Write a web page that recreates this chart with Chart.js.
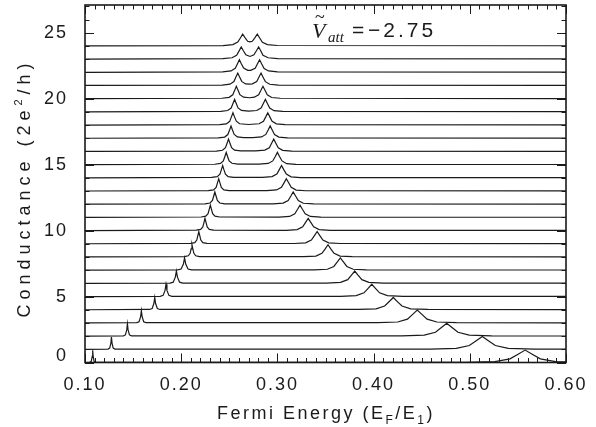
<!DOCTYPE html>
<html>
<head>
<meta charset="utf-8">
<script src="https://cdn.jsdelivr.net/npm/chart.js@4.4.1/dist/chart.umd.min.js"></script>
<style>
  html, body { margin: 0; padding: 0; background: #fff; }
</style>
</head>
<body>
<canvas id="myChart" width="596" height="427"></canvas>
<script>
const xTickLabels = [0.10, 0.20, 0.30, 0.40, 0.50, 0.60];
const yTickLabels = [0, 5, 10, 15, 20, 25];
const attValue = '\u22122.75';

// one trace per offset: [Fermi energy E_F/E_1, conductance 2e^2/h]
const tr0 = [[0.1,0],[0.105,0.02],[0.1065,0.09],[0.1075,0.47],[0.108,0.93],[0.1085,0.47],[0.1095,0.09],[0.111,0.02],[0.4945,0.02],[0.526,0.07],[0.5418,0.28],[0.5502,0.63],[0.5575,0.94],[0.5649,0.63],[0.5733,0.28],[0.589,0.07],[0.6,0.04]];
const tr1 = [[0.1,1],[0.1239,1.02],[0.1257,1.09],[0.1269,1.47],[0.1275,1.93],[0.1281,1.47],[0.1293,1.09],[0.1311,1.02],[0.459,1.02],[0.486,1.07],[0.4995,1.29],[0.5067,1.65],[0.513,1.97],[0.5193,1.65],[0.5265,1.29],[0.54,1.07],[0.567,1.02],[0.6,1.01]];
const tr2 = [[0.1,2],[0.1399,2.02],[0.142,2.09],[0.1434,2.47],[0.1441,2.93],[0.1448,2.47],[0.1462,2.09],[0.1483,2.02],[0.4292,2.02],[0.4526,2.07],[0.4643,2.29],[0.4705,2.65],[0.476,2.97],[0.4815,2.65],[0.4877,2.29],[0.4994,2.07],[0.5228,2.02],[0.6,2.01]];
const tr3 = [[0.1,3],[0.1538,3.02],[0.1562,3.09],[0.1578,3.47],[0.1586,3.93],[0.1594,3.47],[0.161,3.09],[0.1634,3.02],[0.4046,3.02],[0.425,3.07],[0.4352,3.29],[0.4406,3.65],[0.4454,3.97],[0.4502,3.65],[0.4556,3.29],[0.4658,3.07],[0.4862,3.02],[0.6,3.01]];
const tr4 = [[0.1,4],[0.1671,4.02],[0.1698,4.09],[0.1716,4.47],[0.1725,4.93],[0.1734,4.47],[0.1752,4.09],[0.1779,4.02],[0.3845,4.02],[0.4025,4.07],[0.4115,4.28],[0.4163,4.62],[0.4205,4.93],[0.4247,4.62],[0.4295,4.28],[0.4385,4.07],[0.4565,4.02],[0.6,4.01]];
const tr5 = [[0.1,5],[0.1782,5.02],[0.1812,5.09],[0.1832,5.47],[0.1842,5.93],[0.1852,5.47],[0.1872,5.09],[0.1902,5.02],[0.3657,5.02],[0.3819,5.07],[0.39,5.28],[0.3943,5.62],[0.3981,5.93],[0.4019,5.62],[0.4062,5.28],[0.4143,5.07],[0.4305,5.02],[0.6,5.01]];
const tr6 = [[0.1,6],[0.1884,6.02],[0.1917,6.09],[0.1939,6.47],[0.195,6.93],[0.1961,6.47],[0.1983,6.09],[0.2016,6.02],[0.351,6.02],[0.3657,6.07],[0.3731,6.28],[0.377,6.62],[0.3804,6.93],[0.3838,6.62],[0.3878,6.28],[0.3951,6.07],[0.4098,6.02],[0.6,6.01]];
const tr7 = [[0.1,7],[0.1963,7.02],[0.1999,7.09],[0.2023,7.47],[0.2035,7.93],[0.2047,7.47],[0.2071,7.09],[0.2107,7.02],[0.3384,7.02],[0.3519,7.07],[0.3587,7.28],[0.3623,7.62],[0.3654,7.93],[0.3686,7.62],[0.3722,7.28],[0.3789,7.07],[0.3924,7.02],[0.6,7.01]];
const tr8 = [[0.1,8],[0.2034,8.03],[0.2073,8.09],[0.2093,8.28],[0.2103,8.62],[0.2112,8.93],[0.2121,8.62],[0.2132,8.28],[0.2151,8.09],[0.219,8.03],[0.3274,8.02],[0.34,8.07],[0.3463,8.28],[0.3497,8.62],[0.3526,8.93],[0.3555,8.62],[0.3589,8.28],[0.3652,8.07],[0.3778,8.02],[0.6,8.01]];
const tr9 = [[0.1,9],[0.2099,9.03],[0.2141,9.09],[0.2162,9.28],[0.2173,9.62],[0.2183,9.93],[0.2193,9.62],[0.2204,9.28],[0.2225,9.09],[0.2267,9.03],[0.3173,9.02],[0.3293,9.07],[0.3353,9.28],[0.3385,9.62],[0.3413,9.93],[0.3441,9.62],[0.3473,9.28],[0.3533,9.07],[0.3653,9.02],[0.6,9.01]];
const tr10 = [[0.1,10],[0.2157,10.03],[0.2202,10.09],[0.2225,10.28],[0.2237,10.62],[0.2247,10.93],[0.2258,10.62],[0.227,10.28],[0.2292,10.09],[0.2337,10.03],[0.3092,10.02],[0.3206,10.07],[0.3263,10.28],[0.3293,10.62],[0.332,10.93],[0.3347,10.62],[0.3377,10.28],[0.3434,10.07],[0.3548,10.02],[0.6,10.01]];
const tr11 = [[0.1,11],[0.2207,11.03],[0.2255,11.09],[0.2279,11.28],[0.2292,11.62],[0.2303,11.93],[0.2314,11.62],[0.2327,11.28],[0.2351,11.09],[0.2399,11.03],[0.3019,11.02],[0.3127,11.07],[0.3181,11.28],[0.321,11.62],[0.3235,11.93],[0.326,11.62],[0.3289,11.28],[0.3343,11.07],[0.3451,11.02],[0.6,11.01]];
const tr12 = [[0.1,12],[0.2248,12.03],[0.2299,12.09],[0.2325,12.28],[0.2338,12.62],[0.235,12.93],[0.2362,12.62],[0.2376,12.28],[0.2401,12.09],[0.2452,12.03],[0.2954,12.03],[0.3059,12.08],[0.3112,12.28],[0.314,12.62],[0.3164,12.93],[0.3189,12.62],[0.3217,12.28],[0.3269,12.07],[0.3374,12.02],[0.6,12.01]];
const tr13 = [[0.1,13],[0.2282,13.03],[0.2336,13.09],[0.2363,13.28],[0.2377,13.62],[0.239,13.93],[0.2403,13.62],[0.2417,13.28],[0.2444,13.09],[0.2498,13.03],[0.2889,13.03],[0.2991,13.08],[0.3042,13.28],[0.3069,13.62],[0.3093,13.93],[0.3117,13.62],[0.3144,13.28],[0.3195,13.07],[0.3297,13.02],[0.6,13.01]];
const tr14 = [[0.1,14],[0.2317,14.03],[0.2374,14.09],[0.2403,14.28],[0.2418,14.62],[0.2431,14.93],[0.2444,14.62],[0.246,14.28],[0.2488,14.09],[0.2545,14.04],[0.2845,14.04],[0.2944,14.09],[0.2994,14.28],[0.302,14.62],[0.3043,14.93],[0.3066,14.62],[0.3093,14.28],[0.3142,14.07],[0.3241,14.02],[0.6,14.01]];
const tr15 = [[0.1,15],[0.2348,15.03],[0.2408,15.09],[0.2438,15.28],[0.2454,15.62],[0.2468,15.93],[0.2482,15.62],[0.2498,15.28],[0.2528,15.1],[0.2588,15.04],[0.2808,15.04],[0.2904,15.09],[0.2952,15.28],[0.2978,15.62],[0.3,15.93],[0.3022,15.62],[0.3048,15.28],[0.3096,15.07],[0.3192,15.02],[0.6,15.01]];
const tr16 = [[0.1,16],[0.2366,16.03],[0.2429,16.09],[0.246,16.28],[0.2477,16.62],[0.2492,16.93],[0.2507,16.62],[0.2524,16.28],[0.2555,16.1],[0.2618,16.04],[0.2776,16.04],[0.2869,16.1],[0.2916,16.28],[0.294,16.62],[0.2962,16.93],[0.2984,16.62],[0.3009,16.28],[0.3055,16.08],[0.3148,16.02],[0.6,16.01]];
const tr17 = [[0.1,17],[0.2386,17.03],[0.2452,17.09],[0.2485,17.28],[0.2503,17.62],[0.2518,17.93],[0.2533,17.62],[0.2551,17.29],[0.2584,17.1],[0.265,17.04],[0.2745,17.04],[0.2835,17.1],[0.288,17.29],[0.2904,17.62],[0.2925,17.93],[0.2946,17.62],[0.297,17.28],[0.3015,17.09],[0.3105,17.03],[0.6,17.01]];
const tr18 = [[0.1,18],[0.24,18.03],[0.2469,18.09],[0.2504,18.28],[0.2522,18.62],[0.2538,18.93],[0.2554,18.62],[0.2573,18.29],[0.2607,18.1],[0.27,18.04],[0.281,18.1],[0.2855,18.29],[0.2879,18.62],[0.29,18.93],[0.2921,18.62],[0.2945,18.28],[0.299,18.09],[0.308,18.03],[0.6,18.01]];
const tr19 = [[0.1,19],[0.2411,19.03],[0.2483,19.1],[0.2519,19.29],[0.2538,19.63],[0.2555,19.94],[0.2572,19.63],[0.2591,19.3],[0.2627,19.11],[0.2699,19.05],[0.2785,19.1],[0.283,19.29],[0.2854,19.63],[0.2875,19.94],[0.2896,19.63],[0.292,19.29],[0.2965,19.09],[0.3055,19.03],[0.6,19.01]];
const tr20 = [[0.1,20],[0.2423,20.03],[0.2498,20.1],[0.2536,20.29],[0.2556,20.63],[0.2573,20.94],[0.2591,20.64],[0.261,20.3],[0.2648,20.11],[0.2711,20.07],[0.276,20.11],[0.2805,20.3],[0.2829,20.63],[0.285,20.94],[0.2871,20.63],[0.2895,20.29],[0.294,20.09],[0.303,20.03],[0.6,20.01]];
const tr21 = [[0.1,21],[0.2426,21.03],[0.2507,21.1],[0.2548,21.3],[0.2569,21.64],[0.2588,21.94],[0.2607,21.64],[0.2629,21.31],[0.2669,21.12],[0.2709,21.1],[0.274,21.12],[0.2785,21.3],[0.2809,21.64],[0.283,21.94],[0.2851,21.63],[0.2875,21.29],[0.292,21.09],[0.301,21.03],[0.6,21.01]];
const tr22 = [[0.1,22],[0.2431,22.03],[0.2518,22.1],[0.2562,22.3],[0.2585,22.64],[0.2605,22.95],[0.2625,22.65],[0.2649,22.32],[0.2692,22.15],[0.271,22.14],[0.2722,22.15],[0.2769,22.31],[0.2793,22.65],[0.2815,22.95],[0.2837,22.63],[0.2862,22.29],[0.2908,22.1],[0.3001,22.03],[0.6,22.01]];
const tr23 = [[0.1,23],[0.2432,23.03],[0.2528,23.1],[0.2576,23.29],[0.2602,23.62],[0.2624,23.92],[0.2646,23.63],[0.2672,23.33],[0.2715,23.2],[0.2756,23.33],[0.2782,23.63],[0.2805,23.92],[0.2828,23.62],[0.285,23.29],[0.2904,23.1],[0.3003,23.03],[0.6,23.01]];
const tr24 = [[0.1,24],[0.2435,24.02],[0.2537,24.1],[0.2588,24.29],[0.2615,24.6],[0.2639,24.89],[0.2663,24.63],[0.2691,24.35],[0.2715,24.3],[0.2739,24.35],[0.2767,24.63],[0.2791,24.89],[0.2816,24.6],[0.2844,24.28],[0.2896,24.1],[0.3001,24.03],[0.6,24.01]];

const traces = [tr0, tr1, tr2, tr3, tr4, tr5, tr6, tr7, tr8, tr9, tr10, tr11, tr12,
  tr13, tr14, tr15, tr16, tr17, tr18, tr19, tr20, tr21, tr22, tr23, tr24];

const FONT = '"Liberation Sans", Arial, sans-serif';
const SERIF = '"Liberation Serif", serif';
const INK = '#1a1a1a';

// draws a run of [text, size, dy] pieces centred on (0, 0)
function drawPieces(ctx, pieces) {
  let total = 0;
  pieces.forEach(p => { ctx.font = p[1] + 'px ' + FONT; total += ctx.measureText(p[0]).width; });
  let cx = -total / 2;
  pieces.forEach(p => {
    ctx.font = p[1] + 'px ' + FONT;
    ctx.fillText(p[0], cx, p[2]);
    cx += ctx.measureText(p[0]).width;
  });
}

// frame with inward ticks on all four sides, y labels and titles
const framePlugin = {
  id: 'frame',
  beforeDraw(chart) {
    chart.ctx.letterSpacing = '2px';
  },
  afterDatasetsDraw(chart) {
    const { ctx, chartArea: a, scales: { x, y } } = chart;
    ctx.save();
    ctx.strokeStyle = INK;
    ctx.lineWidth = 1;
    ctx.beginPath();
    for (let i = 0; i <= 50; i++) {
      const px = Math.round(x.getPixelForValue(0.1 + i * 0.01)) + 0.5;
      const len = i % 10 === 0 ? 9 : 4.5;
      ctx.moveTo(px, a.bottom); ctx.lineTo(px, a.bottom - len);
      ctx.moveTo(px, a.top); ctx.lineTo(px, a.top + len);
    }
    for (let v = 0; v <= 27; v++) {
      const py = Math.round(y.getPixelForValue(v)) + 0.5;
      const len = v % 5 === 0 ? 9 : 4.5;
      ctx.moveTo(a.left, py); ctx.lineTo(a.left + len, py);
      ctx.moveTo(a.right, py); ctx.lineTo(a.right - len, py);
    }
    ctx.stroke();
    ctx.lineWidth = 1.6;
    ctx.strokeRect(a.left, a.top, a.right - a.left, a.bottom - a.top);

    // y tick labels; the 0 sits a little above the bottom axis as in the original
    ctx.fillStyle = INK;
    ctx.font = '18px ' + FONT;
    ctx.letterSpacing = '2px';
    ctx.textAlign = 'right';
    ctx.textBaseline = 'middle';
    yTickLabels.forEach(v => {
      ctx.fillText(String(v), a.left - 17, y.getPixelForValue(v) - (v === 0 ? 6 : 0));
    });
    ctx.restore();
  },
  afterDraw(chart) {
    const ctx = chart.ctx;
    ctx.save();
    ctx.fillStyle = INK;
    ctx.textBaseline = 'alphabetic';

    // x title with subscripts
    ctx.letterSpacing = '2.5px';
    ctx.save();
    ctx.translate(326, 419);
    drawPieces(ctx, [['Fermi Energy (E', 18, 0], ['F', 12, 5], ['/E', 18, 0], ['1', 12, 5], [')', 18, 0]]);
    ctx.restore();

    // y title, rotated, with superscript
    ctx.letterSpacing = '5px';
    ctx.save();
    ctx.translate(30, 188);
    ctx.rotate(-Math.PI / 2);
    drawPieces(ctx, [['Conductance (2e', 18, 0], ['2', 11, -8], ['/h)', 18, 0]]);
    ctx.restore();

    // V~_att = -2.75 annotation
    ctx.letterSpacing = '0px';
    ctx.font = 'italic 22px ' + SERIF;
    ctx.fillText('V', 312, 38);
    ctx.font = '18px ' + SERIF;
    ctx.fillText('~', 315, 23);
    ctx.font = 'italic 15px ' + SERIF;
    ctx.fillText('att', 328, 42);
    ctx.font = '21px ' + FONT;
    ctx.fillText('=', 352, 37);
    ctx.letterSpacing = '3px';
    ctx.fillText(attValue, 368, 37);
    ctx.restore();
  }
};

new Chart(document.getElementById('myChart'), {
  type: 'line',
  data: {
    datasets: traces.map((t, i) => ({
      label: 'trace ' + i,
      data: t,
      borderColor: INK,
      borderWidth: 1.2,
      pointRadius: 0,
      tension: 0,
      fill: false
    }))
  },
  options: {
    responsive: false,
    animation: false,
    layout: { padding: { top: 5, right: 30, left: 0, bottom: 0 } },
    plugins: { legend: { display: false }, tooltip: { enabled: false } },
    scales: {
      x: {
        type: 'linear', min: 0.1, max: 0.6,
        afterBuildTicks: s => { s.ticks = xTickLabels.map(v => ({ value: v })); },
        afterFit: s => { s.height = 64.5; s.paddingLeft = 0; s.paddingRight = 0; },
        grid: { display: false, drawTicks: false },
        border: { display: false },
        ticks: {
          callback: v => v.toFixed(2), font: { family: FONT, size: 18 },
          color: INK, padding: 12, maxRotation: 0, autoSkip: false
        }
      },
      y: {
        type: 'linear', min: 0, max: 27.1,
        afterBuildTicks: s => { s.ticks = yTickLabels.map(v => ({ value: v })); },
        afterFit: s => { s.width = 85; s.paddingTop = 0; s.paddingBottom = 0; },
        grid: { display: false, drawTicks: false },
        border: { display: false },
        ticks: { display: false }
      }
    }
  },
  plugins: [framePlugin]
});
</script>
</body>
</html>
